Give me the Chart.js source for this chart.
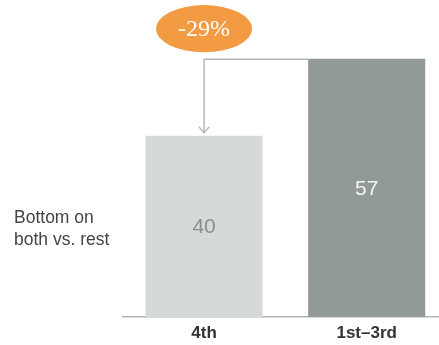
<!DOCTYPE html>
<html>
<head>
<meta charset="utf-8">
<script src="https://cdn.jsdelivr.net/npm/chart.js@4"></script>
<style>
  html, body { margin: 0; padding: 0; background: #fff; overflow: hidden; }
  #wrap { width: 448px; height: 345px; }
</style>
</head>
<body>
<div id="wrap"><canvas id="myChart"></canvas></div>
<script>
// data
const categories = ['4th', '1st\u20133rd'];
const values = [40, 57];
const barColors = ['#d5d9d7', '#919a96'];
const valueColors = ['#8c8f8d', '#f4f5f4'];
const rowLabel = ['Bottom on', 'both vs. rest'];
const changeLabel = '-29%';

// labels inside bars + side text + arrow callout
const extras = {
    id: 'extras',
    afterDatasetsDraw(chart) {
        const ctx = chart.ctx;
        const x = chart.scales.x, y = chart.scales.y;
        const bars = chart.getDatasetMeta(0).data;

        ctx.save();
        // values in bars
        ctx.font = '21px Arial, "Liberation Sans", sans-serif';
        ctx.textAlign = 'center';
        ctx.textBaseline = 'middle';
        bars.forEach((b, i) => {
            ctx.fillStyle = valueColors[i];
            ctx.fillText(String(values[i]), b.x, (b.y + b.base) / 2 + 1);
        });

        // row label on the left
        ctx.fillStyle = '#444';
        ctx.font = '17.5px Arial, "Liberation Sans", sans-serif';
        ctx.textAlign = 'left';
        ctx.fillText(rowLabel[0], 14, 218);
        ctx.fillText(rowLabel[1], 14, 240);

        // connector from bar 2 top down to bar 1
        const x0 = x.getPixelForValue(0);
        const topY = y.getPixelForValue(values[1]) + 0.5;
        const tipY = y.getPixelForValue(values[0]) - 3;
        const leftB2 = bars[1].x - bars[1].width / 2;
        ctx.strokeStyle = '#b4b8b6';
        ctx.lineWidth = 1.5;
        ctx.beginPath();
        ctx.moveTo(leftB2, topY);
        ctx.lineTo(x0, topY);
        ctx.lineTo(x0, tipY);
        ctx.stroke();
        ctx.beginPath();
        ctx.moveTo(x0 - 5, tipY - 6);
        ctx.lineTo(x0, tipY);
        ctx.lineTo(x0 + 5, tipY - 6);
        ctx.stroke();

        // orange bubble
        ctx.fillStyle = '#f39b42';
        ctx.beginPath();
        ctx.ellipse(x0, 28.7, 48, 23.6, 0, 0, Math.PI * 2);
        ctx.fill();
        ctx.fillStyle = '#fff';
        ctx.font = '24px "Liberation Serif", "DejaVu Serif", serif';
        ctx.textAlign = 'center';
        ctx.fillText(changeLabel, x0, 30);
        ctx.restore();
    }
};

const data = {
    labels: categories,
    datasets: [{
        data: values,
        backgroundColor: barColors,
        borderWidth: 0,
        barPercentage: 0.72,
        categoryPercentage: 1
    }]
};

const config = {
    type: 'bar',
    data,
    options: {
        responsive: false,
        animation: false,
        devicePixelRatio: 1,
        layout: { padding: { left: 122.75, right: 0, top: 0, bottom: 0 } },
        plugins: { legend: { display: false }, tooltip: { enabled: false } },
        scales: {
            x: {
                grid: { display: false, drawTicks: false },
                border: { display: true, color: '#b3b3b3', width: 1.5 },
                ticks: {
                    padding: 6,
                    color: '#333',
                    font: { family: 'Arial, "Liberation Sans", sans-serif', size: 17, weight: 'bold' }
                },
                afterFit(scale) { scale.height = 28; }
            },
            y: { display: false, min: 0, max: 70 }
        }
    },
    plugins: [extras]
};

const cv = document.getElementById('myChart');
cv.width = 448;
cv.height = 345;
let myChart = new Chart(cv, config);
</script>
</body>
</html>
